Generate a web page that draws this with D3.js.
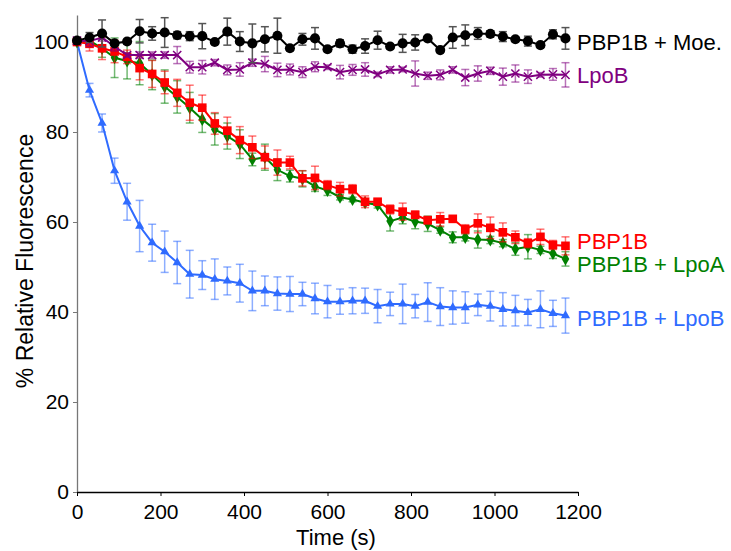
<!DOCTYPE html>
<html>
<head>
<meta charset="utf-8">
<script src="https://cdn.jsdelivr.net/npm/d3@7"></script>
<style>
  body { margin: 0; background: #fff; }
  text { font-family: "Liberation Sans", Arial, sans-serif; }
</style>
</head>
<body>
<svg id="chart" width="731" height="551"></svg>
<script>
// time points, every 30 s
const times = d3.range(0, 1200, 30);

// series means (% relative fluorescence)
const moeMean = [100.3, 101.0, 101.9, 99.7, 100.1, 102.4, 101.9, 102.1, 101.5, 101.3,
  101.3, 100.0, 102.3, 100.1, 99.7, 100.6, 101.4, 98.6, 100.6, 100.8,
  98.4, 99.7, 98.4, 99.1, 100.4, 99.0, 99.7, 99.9, 100.8, 98.2,
  101.0, 101.5, 101.9, 101.8, 101.2, 100.6, 100.2, 99.3, 101.7, 100.8];
const moeErr = [0.5, 1.1, 3.0, 0.5, 0.5, 2.6, 1.5, 3.3, 0.8, 1.0,
  2.8, 0.5, 3.0, 2.2, 4.3, 2.8, 3.9, 0.5, 1.3, 2.4,
  0.5, 0.8, 0.9, 1.6, 2.0, 0.5, 2.0, 1.7, 0.5, 0.5,
  2.4, 2.3, 1.3, 0.7, 1.1, 0.5, 1.1, 0.5, 1.0, 2.4];

const lpobMean = [100.3, 100.2, 101.0, 99.0, 97.1, 97.1, 97.1, 97.1, 97.1, 94.4,
  94.4, 95.4, 93.8, 93.9, 95.4, 95.1, 93.8, 93.9, 93.3, 94.5,
  94.4, 93.3, 93.8, 93.9, 92.8, 93.8, 93.9, 93.0, 92.5, 92.7,
  93.8, 92.1, 93.0, 93.6, 92.3, 93.0, 92.3, 92.7, 92.8, 92.7];
const lpobErr = [0.5, 1.2, 0.8, 1.0, 0.5, 0.7, 0.7, 0.7, 1.9, 1.3,
  1.5, 0.7, 1.1, 1.5, 0.8, 1.7, 1.5, 1.2, 1.2, 1.1,
  0.5, 1.5, 1.2, 1.5, 0.5, 0.7, 0.5, 2.8, 0.8, 1.1,
  0.7, 1.8, 1.7, 0.8, 1.9, 1.9, 1.5, 0.5, 1.3, 2.7];

const pbpMean = [100.0, 99.6, 98.6, 97.9, 96.7, 94.2, 92.9, 91.0, 88.7, 86.5,
  85.4, 81.9, 80.3, 78.2, 76.6, 74.4, 73.2, 73.2, 69.7, 69.8,
  68.2, 67.3, 67.3, 64.5, 64.5, 62.8, 62.3, 61.6, 60.4, 60.6,
  60.7, 58.4, 59.7, 58.7, 57.7, 56.6, 55.3, 56.7, 54.9, 54.7];
const pbpErr = [0.5, 1.6, 2.5, 2.5, 1.5, 2.6, 3.0, 2.5, 3.0, 3.9,
  2.8, 2.4, 3.0, 3.0, 2.5, 2.5, 2.8, 1.4, 1.7, 2.6,
  1.0, 1.5, 1.0, 1.3, 0.5, 1.0, 1.9, 0.8, 0.8, 1.5,
  0.5, 1.0, 2.1, 2.4, 2.1, 1.4, 1.0, 1.7, 1.0, 2.0];

const lpoaMean = [100.0, 100.3, 98.6, 96.5, 95.8, 95.3, 92.7, 90.1, 87.8, 85.4,
  82.8, 80.6, 79.1, 77.3, 73.9, 74.4, 71.6, 70.2, 69.6, 67.9,
  67.0, 65.5, 65.0, 64.3, 63.8, 60.2, 61.0, 60.1, 59.6, 58.2,
  56.6, 56.6, 56.1, 56.0, 55.3, 54.0, 54.5, 53.8, 53.0, 51.8];
const lpoaErr = [0.5, 1.0, 2.0, 4.4, 4.0, 4.8, 3.3, 3.7, 3.6, 3.4,
  2.9, 3.5, 2.9, 3.2, 1.4, 2.9, 2.4, 1.3, 1.8, 1.1,
  1.1, 0.6, 0.5, 0.5, 0.7, 2.2, 1.4, 1.6, 1.7, 0.7,
  1.2, 0.8, 1.9, 0.8, 0.8, 1.4, 2.7, 0.8, 1.1, 1.6];

const lpobPbpMean = [100.0, 89.3, 82.0, 71.4, 64.5, 59.1, 55.4, 53.4, 51.0, 48.4,
  48.2, 47.3, 46.9, 46.4, 44.7, 44.7, 44.1, 44.0, 44.0, 43.0,
  42.3, 42.3, 42.5, 42.5, 41.3, 41.8, 41.8, 41.3, 42.2, 41.2,
  41.0, 41.0, 41.6, 41.3, 40.6, 40.3, 39.9, 40.6, 39.7, 39.2];
const lpobPbpErr = [0.5, 1.5, 2.0, 2.8, 4.1, 5.7, 4.1, 4.6, 4.7, 5.3,
  3.2, 4.5, 3.1, 4.2, 4.4, 3.3, 3.7, 3.9, 2.6, 3.4,
  3.6, 2.8, 2.9, 2.8, 3.7, 2.6, 4.4, 2.6, 4.3, 4.2,
  3.7, 3.5, 2.4, 3.3, 3.7, 3.4, 2.9, 4.1, 2.9, 3.9];

const xTicks = [0, 200, 400, 600, 800, 1000, 1200];
const yTicks = [0, 20, 40, 60, 80, 100];

// draw order: blue, green, red, purple, black
const series = [
  { name: "PBP1B + LpoB", mean: lpobPbpMean, err: lpobPbpErr, color: "#2f6bff", symbol: "triangle", labelY: 318 },
  { name: "PBP1B + LpoA", mean: lpoaMean, err: lpoaErr, color: "#008000", symbol: "diamond", labelY: 264 },
  { name: "PBP1B", mean: pbpMean, err: pbpErr, color: "#ff0000", symbol: "square", labelY: 241 },
  { name: "LpoB", mean: lpobMean, err: lpobErr, color: "#800080", symbol: "times", labelY: 75 },
  { name: "PBP1B + Moe.", mean: moeMean, err: moeErr, color: "#000000", symbol: "circle", labelY: 42 },
];

const svg = d3.select("#chart");

const x = d3.scaleLinear().domain([0, 1200]).range([77, 578]);
const y = d3.scaleLinear().domain([0, 106]).range([492, 15]);

// axes
const yAxis = svg.append("g")
  .attr("transform", "translate(77,0)")
  .call(d3.axisLeft(y).tickValues(yTicks).tickSize(4).tickPadding(4).tickSizeOuter(0));
yAxis.select(".domain").attr("stroke", "#777").attr("stroke-width", 1.3);
yAxis.selectAll(".tick line").attr("stroke", "#777");
yAxis.selectAll("text").attr("font-size", 21).attr("fill", "#000")
  .attr("font-family", "Liberation Sans, Arial, sans-serif");

const xAxis = svg.append("g")
  .attr("transform", "translate(0,492)")
  .call(d3.axisBottom(x).tickValues(xTicks).tickFormat(d3.format("d")).tickSize(4).tickPadding(8).tickSizeOuter(0));
xAxis.select(".domain").attr("stroke", "#000").attr("stroke-width", 1.3);
xAxis.selectAll("text").attr("font-size", 21).attr("fill", "#000")
  .attr("font-family", "Liberation Sans, Arial, sans-serif");

svg.append("text")
  .attr("x", 336).attr("y", 545)
  .attr("text-anchor", "middle")
  .attr("font-size", 22)
  .text("Time (s)");

svg.append("text")
  .attr("transform", "translate(33,261) rotate(-90)")
  .attr("text-anchor", "middle")
  .attr("font-size", 23)
  .text("% Relative Fluorescence");

const symbolMap = {
  triangle: d3.symbol().type(d3.symbolTriangle).size(36),
  diamond: d3.symbol().type(d3.symbolDiamond).size(50),
  square: d3.symbol().type(d3.symbolSquare).size(75),
  times: d3.symbol().type(d3.symbolTimes).size(45),
  circle: d3.symbol().type(d3.symbolCircle).size(80),
};

series.forEach((s) => {
  const pts = times.map((t, i) => ({ t, v: s.mean[i], e: s.err[i] }));
  const g = svg.append("g");
  const barColor = s.color === "#000000" ? "#555" : s.color;

  // error bars
  const eb = g.append("g")
    .attr("stroke", barColor)
    .attr("stroke-opacity", s.color === "#000000" ? 1 : 0.55)
    .attr("stroke-width", 1.5);
  pts.forEach((d) => {
    const cx = x(d.t), y1 = y(d.v - d.e), y2 = y(d.v + d.e);
    eb.append("line").attr("x1", cx).attr("x2", cx).attr("y1", y1).attr("y2", y2);
    eb.append("line").attr("x1", cx - 4).attr("x2", cx + 4).attr("y1", y1).attr("y2", y1);
    eb.append("line").attr("x1", cx - 4).attr("x2", cx + 4).attr("y1", y2).attr("y2", y2);
  });

  // line
  g.append("path")
    .datum(pts)
    .attr("fill", "none")
    .attr("stroke", s.color)
    .attr("stroke-width", 2)
    .attr("d", d3.line().x((d) => x(d.t)).y((d) => y(d.v)));

  // markers
  g.selectAll(".m")
    .data(pts)
    .enter()
    .append("path")
    .attr("transform", (d) => `translate(${x(d.t)},${y(d.v)})`)
    .attr("d", symbolMap[s.symbol]())
    .attr("fill", s.symbol === "times" ? "none" : s.color)
    .attr("stroke", s.symbol === "times" ? s.color : "none")
    .attr("stroke-width", 1.5);

  // label
  svg.append("text")
    .attr("x", 577)
    .attr("y", s.labelY + 8)
    .attr("font-size", 22)
    .attr("fill", s.color)
    .text(s.name);
});
</script>
</body>
</html>
